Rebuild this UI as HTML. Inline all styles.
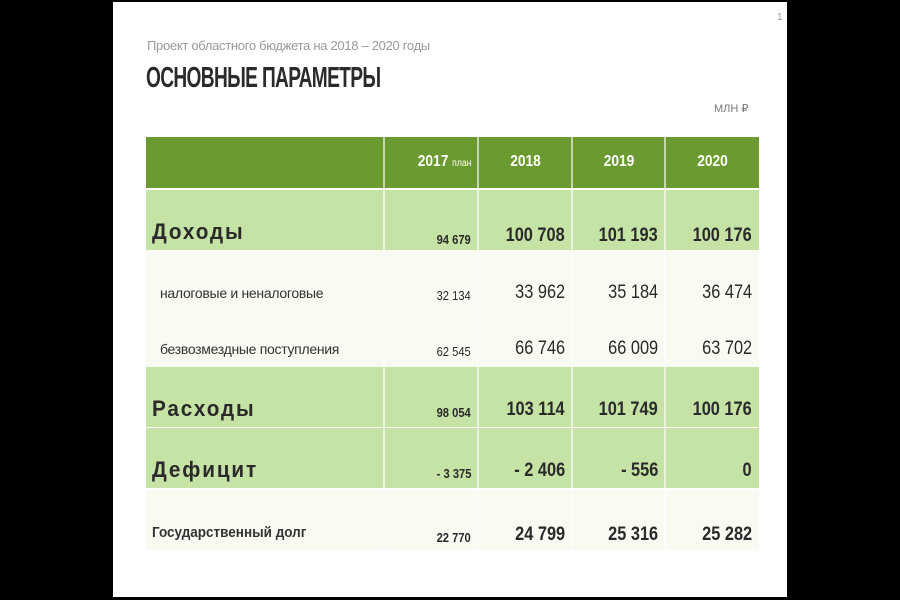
<!DOCTYPE html><html><head><meta charset="utf-8"><style>
body{margin:0;width:900px;height:600px;background:#000;position:relative;overflow:hidden;font-family:"Liberation Sans","Noto Sans CJK SC",sans-serif}
.s{position:absolute;left:113px;top:2px;width:674px;height:595px;background:#fff}
.a{position:absolute}
.c{position:absolute;box-sizing:border-box;text-align:right;padding-right:7px;color:#2a2a2a}
.c span.n{display:inline-block;transform:scaleX(0.86);transform-origin:right}
</style></head><body>
<div class="s"></div>
<div class="a" style="left:777px;top:12px;font-size:10px;color:#999">1</div>
<div class="a" style="left:147px;top:38px;font-size:13px;color:#9a9a9a;letter-spacing:-0.3px">Проект областного бюджета на 2018 – 2020 годы</div>
<div class="a" style="left:146px;top:62px;font-size:29px;font-weight:bold;color:#2b2b2b;transform:scaleX(0.66);transform-origin:left;letter-spacing:-1px">ОСНОВНЫЕ ПАРАМЕТРЫ</div>
<div class="a" style="left:714px;top:102px;font-size:11px;color:#777">МЛН ₽</div>
<div class="a" style="left:146px;top:137px;width:613px;height:51px;background:#6b9a31"></div>
<div class="a" style="left:146px;top:190px;width:613px;height:60px;background:#c6e3a6"></div>
<div class="a" style="left:146px;top:250px;width:613px;height:117px;background:#f7fbf2"></div>
<div class="a" style="left:146px;top:367px;width:613px;height:60px;background:#c6e3a6"></div>
<div class="a" style="left:146px;top:428px;width:613px;height:60px;background:#c6e3a6"></div>
<div class="a" style="left:146px;top:490px;width:613px;height:60px;background:#f7fbf2"></div>
<div class="a" style="left:383px;top:137px;width:2px;height:413px;background:rgba(255,255,255,.6)"></div>
<div class="a" style="left:477px;top:137px;width:2px;height:413px;background:rgba(255,255,255,.6)"></div>
<div class="a" style="left:571px;top:137px;width:2px;height:413px;background:rgba(255,255,255,.6)"></div>
<div class="a" style="left:664px;top:137px;width:2px;height:413px;background:rgba(255,255,255,.6)"></div>
<div class="c" style="left:385px;top:153px;width:93px;color:#fff;font-weight:bold;font-size:16px"><span class="n">2017 <span style="font-size:10px;font-weight:normal">план</span></span></div>
<div class="c" style="left:479px;top:153px;width:93px;color:#fff;font-weight:bold;font-size:16px;text-align:center;padding:0;transform:scaleX(0.86)">2018</div>
<div class="c" style="left:573px;top:153px;width:92px;color:#fff;font-weight:bold;font-size:16px;text-align:center;padding:0;transform:scaleX(0.86)">2019</div>
<div class="c" style="left:666px;top:153px;width:93px;color:#fff;font-weight:bold;font-size:16px;text-align:center;padding:0;transform:scaleX(0.86)">2020</div>
<div class="a" style="left:152px;top:219px;font-size:22px;font-weight:bold;letter-spacing:2px;color:#2a2a2a;transform:scaleX(0.94);transform-origin:left">Доходы</div>
<div class="a" style="left:160px;top:285px;font-size:14px;color:#333;letter-spacing:-0.3px">налоговые и неналоговые</div>
<div class="a" style="left:160px;top:341px;font-size:14px;color:#333;letter-spacing:-0.3px">безвозмездные поступления</div>
<div class="a" style="left:152px;top:396px;font-size:22px;font-weight:bold;letter-spacing:2px;color:#2a2a2a;transform:scaleX(0.94);transform-origin:left">Расходы</div>
<div class="a" style="left:152px;top:457px;font-size:22px;font-weight:bold;letter-spacing:2px;color:#2a2a2a;transform:scaleX(0.94);transform-origin:left">Дефицит</div>
<div class="a" style="left:152px;top:524px;font-size:15px;font-weight:bold;color:#333;transform:scaleX(0.9);transform-origin:left">Государственный долг</div>
<div class="c" style="left:385px;top:232px;width:93px;font-size:13px;font-weight:bold"><span class="n">94 679</span></div>
<div class="c" style="left:479px;top:225px;width:93px;font-size:19px;font-weight:bold"><span class="n">100 708</span></div>
<div class="c" style="left:573px;top:225px;width:92px;font-size:19px;font-weight:bold"><span class="n">101 193</span></div>
<div class="c" style="left:666px;top:225px;width:93px;font-size:19px;font-weight:bold"><span class="n">100 176</span></div>
<div class="c" style="left:385px;top:288px;width:93px;font-size:13px"><span class="n">32 134</span></div>
<div class="c" style="left:479px;top:282px;width:93px;font-size:19px"><span class="n">33 962</span></div>
<div class="c" style="left:573px;top:282px;width:92px;font-size:19px"><span class="n">35 184</span></div>
<div class="c" style="left:666px;top:282px;width:93px;font-size:19px"><span class="n">36 474</span></div>
<div class="c" style="left:385px;top:344px;width:93px;font-size:13px"><span class="n">62 545</span></div>
<div class="c" style="left:479px;top:338px;width:93px;font-size:19px"><span class="n">66 746</span></div>
<div class="c" style="left:573px;top:338px;width:92px;font-size:19px"><span class="n">66 009</span></div>
<div class="c" style="left:666px;top:338px;width:93px;font-size:19px"><span class="n">63 702</span></div>
<div class="c" style="left:385px;top:405px;width:93px;font-size:13px;font-weight:bold"><span class="n">98 054</span></div>
<div class="c" style="left:479px;top:399px;width:93px;font-size:19px;font-weight:bold"><span class="n">103 114</span></div>
<div class="c" style="left:573px;top:399px;width:92px;font-size:19px;font-weight:bold"><span class="n">101 749</span></div>
<div class="c" style="left:666px;top:399px;width:93px;font-size:19px;font-weight:bold"><span class="n">100 176</span></div>
<div class="c" style="left:385px;top:466px;width:93px;font-size:13px;font-weight:bold"><span class="n">- 3 375</span></div>
<div class="c" style="left:479px;top:460px;width:93px;font-size:19px;font-weight:bold"><span class="n">- 2 406</span></div>
<div class="c" style="left:573px;top:460px;width:92px;font-size:19px;font-weight:bold"><span class="n">- 556</span></div>
<div class="c" style="left:666px;top:460px;width:93px;font-size:19px;font-weight:bold"><span class="n">0</span></div>
<div class="c" style="left:385px;top:530px;width:93px;font-size:13px;font-weight:bold"><span class="n">22 770</span></div>
<div class="c" style="left:479px;top:524px;width:93px;font-size:19px;font-weight:bold"><span class="n">24 799</span></div>
<div class="c" style="left:573px;top:524px;width:92px;font-size:19px;font-weight:bold"><span class="n">25 316</span></div>
<div class="c" style="left:666px;top:524px;width:93px;font-size:19px;font-weight:bold"><span class="n">25 282</span></div>
</body></html>
